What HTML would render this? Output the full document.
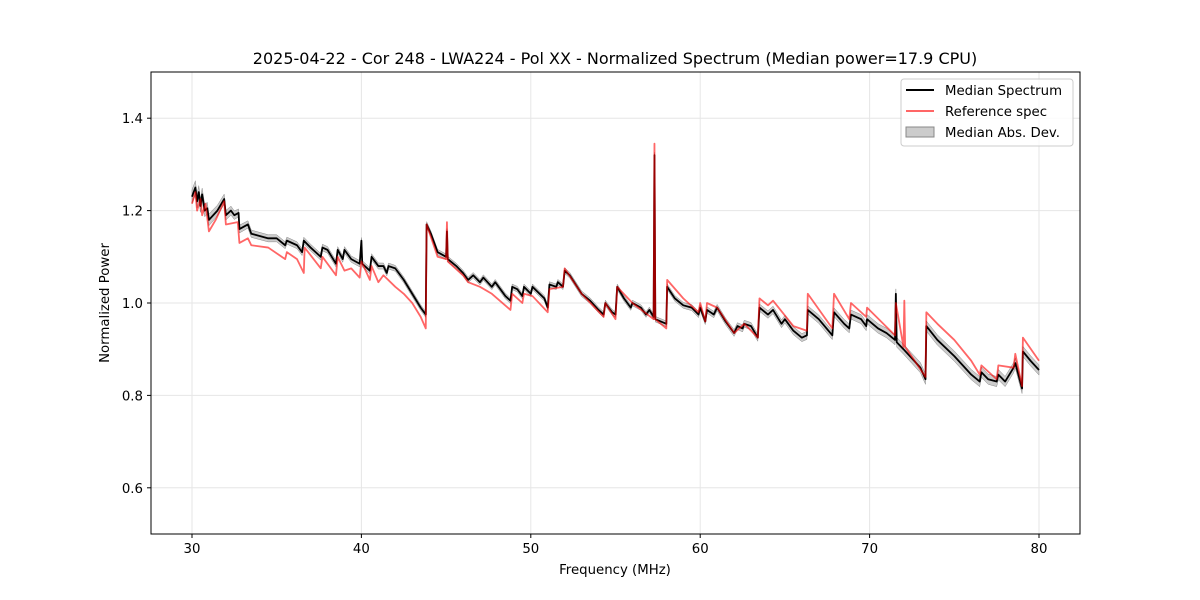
<!DOCTYPE html>
<html><head><meta charset="utf-8"><style>
body{margin:0;background:#fff;}
svg{display:block;font-family:"DejaVu Sans","Liberation Sans",sans-serif;}
</style></head><body>
<svg id="chart" width="1200" height="600" xmlns="http://www.w3.org/2000/svg">
<rect width="1200" height="600" fill="#fff"/>
<g id="grid"></g>
<g id="plot"></g>
<rect x="151" y="72" width="929" height="462" fill="none" stroke="#000" stroke-width="1"/>
<g id="ticks"></g>
<text x="615" y="64" text-anchor="middle" font-size="16">2025-04-22 - Cor 248 - LWA224 - Pol XX - Normalized Spectrum (Median power=17.9 CPU)</text>
<text x="615" y="574" text-anchor="middle" font-size="13.3">Frequency (MHz)</text>
<text x="109" y="303" text-anchor="middle" font-size="13.3" transform="rotate(-90 109 303)">Normalized Power</text>
<g>
<rect x="901" y="79" width="172" height="67" rx="3" fill="#fff" fill-opacity="0.8" stroke="#ccc"/>
<line x1="906" y1="90" x2="934" y2="90" stroke="#000" stroke-width="2"/>
<text x="945" y="95" font-size="13.3">Median Spectrum</text>
<line x1="906" y1="111" x2="934" y2="111" stroke="#ff0000" stroke-opacity="0.6" stroke-width="2"/>
<text x="945" y="116" font-size="13.3">Reference spec</text>
<rect x="906" y="127" width="28" height="10" fill="#999" fill-opacity="0.5" stroke="#888"/>
<text x="945" y="137" font-size="13.3">Median Abs. Dev.</text>
</g>
</svg>
<script>
const medFreq=[30.0,30.2,30.3,30.4,30.5,30.6,30.75,30.9,31.0,31.5,31.9,32.0,32.3,32.5,32.75,32.8,33.3,33.5,34.5,35.0,35.5,35.6,36.2,36.5,36.6,37.0,37.6,37.7,38.0,38.5,38.6,38.9,39.0,39.4,39.9,40.0,40.05,40.5,40.6,41.0,41.3,41.5,41.6,42.0,42.3,42.5,43.0,43.5,43.8,43.85,44.1,44.5,45.0,45.05,45.1,45.6,46.0,46.3,46.6,47.0,47.2,47.7,47.9,48.5,48.8,48.9,49.2,49.5,49.6,50.0,50.1,50.8,51.0,51.1,51.5,51.6,51.9,52.0,52.3,53.0,53.5,54.0,54.3,54.4,54.8,55.0,55.1,55.5,55.9,56.0,56.5,56.8,57.0,57.25,57.3,57.35,58.0,58.05,58.5,59.0,59.5,59.9,60.0,60.3,60.4,60.8,61.0,61.5,62.0,62.2,62.5,62.6,63.0,63.4,63.5,64.0,64.3,64.8,65.0,65.5,66.0,66.3,66.35,67.0,67.8,67.9,68.5,68.8,68.9,69.5,69.8,69.85,70.5,71.0,71.5,71.55,71.6,72.0,72.5,73.0,73.3,73.35,74.0,75.0,76.0,76.5,76.6,77.0,77.5,77.6,78.0,78.5,78.6,79.0,79.05,79.5,80.0];
const medVal=[1.23,1.25,1.22,1.24,1.21,1.235,1.2,1.205,1.18,1.2,1.225,1.19,1.2,1.19,1.195,1.16,1.17,1.15,1.14,1.14,1.125,1.135,1.125,1.11,1.135,1.12,1.1,1.12,1.115,1.085,1.115,1.095,1.115,1.095,1.085,1.135,1.085,1.07,1.1,1.08,1.08,1.065,1.08,1.075,1.06,1.05,1.02,0.99,0.975,1.17,1.15,1.11,1.1,1.155,1.095,1.08,1.065,1.05,1.06,1.045,1.055,1.035,1.045,1.015,1.005,1.035,1.03,1.015,1.035,1.02,1.035,1.01,0.99,1.04,1.035,1.045,1.035,1.07,1.06,1.02,1.005,0.985,0.975,1.0,0.98,0.975,1.035,1.01,0.99,1.0,0.99,0.975,0.985,0.97,1.32,0.965,0.955,1.035,1.01,0.995,0.99,0.975,0.99,0.96,0.985,0.975,0.99,0.96,0.935,0.95,0.945,0.955,0.95,0.925,0.99,0.975,0.985,0.955,0.965,0.94,0.925,0.93,0.985,0.965,0.93,0.98,0.955,0.945,0.975,0.965,0.95,0.965,0.945,0.935,0.92,1.02,0.915,0.9,0.88,0.86,0.835,0.95,0.92,0.885,0.845,0.83,0.85,0.835,0.83,0.845,0.83,0.86,0.87,0.815,0.895,0.875,0.855];
const refFreq=[30.0,30.2,30.3,30.5,30.6,30.8,31.0,31.4,31.9,32.0,32.7,32.8,33.3,33.5,34.5,35.5,35.6,36.2,36.6,36.65,37.6,37.7,38.5,38.6,39.0,39.4,39.9,40.0,40.5,40.6,41.0,41.3,42.0,42.5,43.0,43.5,43.8,43.85,44.5,45.0,45.05,45.1,46.0,46.3,47.0,47.7,48.8,48.9,49.5,49.6,50.1,51.0,51.1,51.9,52.0,53.0,54.3,54.4,55.0,55.1,56.0,57.25,57.3,57.35,58.0,58.05,59.0,59.9,60.0,60.3,60.4,61.0,62.0,62.6,63.4,63.5,64.0,64.3,65.5,66.3,66.35,67.8,67.9,68.8,68.9,69.8,69.85,71.5,71.55,72.0,72.05,72.1,73.3,73.35,74.0,75.0,76.0,76.5,76.6,77.5,77.6,78.5,78.6,79.0,79.05,80.0];
const refVal=[1.215,1.24,1.2,1.225,1.19,1.215,1.155,1.18,1.22,1.17,1.175,1.13,1.14,1.125,1.12,1.095,1.11,1.095,1.065,1.12,1.075,1.1,1.06,1.1,1.07,1.075,1.055,1.09,1.05,1.08,1.045,1.06,1.035,1.02,1.0,0.97,0.945,1.17,1.1,1.095,1.175,1.09,1.06,1.045,1.035,1.02,0.985,1.02,1.0,1.02,1.015,0.98,1.03,1.035,1.075,1.02,0.97,1.0,0.965,1.035,1.0,0.965,1.345,0.965,0.945,1.05,1.01,0.98,1.0,0.96,1.0,0.99,0.935,0.955,0.925,1.01,0.995,1.005,0.95,0.94,1.02,0.945,1.02,0.965,1.0,0.97,0.99,0.93,1.0,0.905,1.005,0.905,0.84,0.98,0.955,0.92,0.875,0.845,0.865,0.835,0.865,0.86,0.89,0.82,0.925,0.875];
const madFreq=[30,33,44,58,73,80];
const madVal=[0.015,0.008,0.006,0.006,0.011,0.011];
const xTicks=[30,40,50,60,70,80];
const yTicks=[0.6,0.8,1.0,1.2,1.4];

const X0=151,X1=1080,Y0=534,Y1=72,XMIN=27.58,XMAX=82.42,YMIN=0.5,YMAX=1.5;
const xs=f=>X0+(f-XMIN)/(XMAX-XMIN)*(X1-X0);
const ys=v=>Y0-(v-YMIN)/(YMAX-YMIN)*(Y0-Y1);
const NS="http://www.w3.org/2000/svg";
function mk(tag,attrs,parent){const e=document.createElementNS(NS,tag);for(const k in attrs)e.setAttribute(k,attrs[k]);parent.appendChild(e);return e;}
function madAt(f){for(let i=0;i<madFreq.length-1;i++){if(f<=madFreq[i+1]){const t=(f-madFreq[i])/(madFreq[i+1]-madFreq[i]);return madVal[i]+t*(madVal[i+1]-madVal[i]);}}return madVal[madVal.length-1];}
const grid=document.getElementById('grid'),plot=document.getElementById('plot'),ticks=document.getElementById('ticks');
xTicks.forEach(t=>{const x=xs(t);
const g=mk('line',{x1:x,x2:x,y1:Y1,y2:Y0,stroke:'#e6e6e6','stroke-width':1},grid);


const tk=mk('line',{x1:x,x2:x,y1:Y0,y2:Y0+4,stroke:'#000'},ticks);


const tx=mk('text',{x:x,y:Y0+19,'text-anchor':'middle','font-size':13.3},ticks);tx.textContent=t;

});
yTicks.forEach(t=>{const y=ys(t);
const g=mk('line',{x1:X0,x2:X1,y1:y,y2:y,stroke:'#e6e6e6','stroke-width':1},grid);


const tk=mk('line',{x1:X0-4,x2:X0,y1:y,y2:y,stroke:'#000'},ticks);


const tx=mk('text',{x:X0-8,y:y+5,'text-anchor':'end','font-size':13.3},ticks);tx.textContent=t.toFixed(1);

});
let up=medFreq.map((f,i)=>xs(f)+','+ys(medVal[i]+madAt(f)));
let dn=medFreq.map((f,i)=>xs(f)+','+ys(medVal[i]-madAt(f))).reverse();
const band=mk('polygon',{points:up.concat(dn).join(' '),fill:'#999','fill-opacity':0.5,stroke:'#888','stroke-width':0.5},plot);


const med=mk('polyline',{points:medFreq.map((f,i)=>xs(f)+','+ys(medVal[i])).join(' '),fill:'none',stroke:'#000','stroke-width':1.8,'stroke-linejoin':'round'},plot);


const ref=mk('polyline',{points:refFreq.map((f,i)=>xs(f)+','+ys(refVal[i])).join(' '),fill:'none',stroke:'#ff0000','stroke-opacity':0.6,'stroke-width':1.8,'stroke-linejoin':'round'},plot);


</script>
</body></html>
